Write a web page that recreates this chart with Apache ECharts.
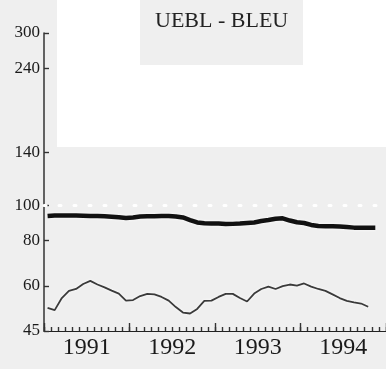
<!DOCTYPE html>
<html><head><meta charset="utf-8">
<script src="https://cdn.jsdelivr.net/npm/echarts@6/dist/echarts.min.js"></script>
<style>html,body{margin:0;padding:0;background:#efefef}#c{width:386px;height:369px}</style>
</head><body><div id="c"></div>
<script>
const years = ['1991', '1992', '1993', '1994'];
const monthNums = ['01','02','03','04','05','06','07','08','09','10','11','12'];
const months = [];
years.forEach(y => monthNums.forEach(m => months.push(y + '-' + m)));

// Thick black series (monthly, Jan 1991 - Nov 1994)
const thickSeries = [
  93.6, 93.9, 93.9, 93.9, 93.8, 93.7, 93.6, 93.6, 93.4, 93.1, 92.8, 92.4,
  92.7, 93.3, 93.4, 93.4, 93.6, 93.6, 93.3, 92.7, 91.2, 89.8, 89.3, 89.2,
  89.2, 88.9, 89.0, 89.2, 89.5, 89.8, 90.6, 91.2, 91.9, 92.2, 90.9, 89.9,
  89.5, 88.4, 87.8, 87.7, 87.6, 87.5, 87.2, 86.9, 86.9, 86.9, 86.9
];
// Thin grey series (monthly, Jan 1991 - Oct 1994)
const thinSeries = [
  52.1, 51.4, 55.5, 58.1, 58.8, 60.7, 61.9, 60.5, 59.4, 58.2, 57.1, 54.6,
  54.8, 56.2, 57.0, 56.8, 55.9, 54.6, 52.4, 50.6, 50.3, 51.8, 54.5, 54.6,
  55.9, 57.0, 57.0, 55.5, 54.3, 57.1, 58.8, 59.7, 58.8, 59.9, 60.5, 60.1,
  60.9, 59.7, 58.8, 58.1, 56.8, 55.5, 54.5, 54.0, 53.6, 52.5
];
const yTickValues = [45, 60, 80, 100, 140, 240, 300];
const refLevel = 100;
const titleText = 'UEBL - BLEU';

const chart = echarts.init(document.getElementById('c'), null, {renderer: 'canvas'});
const logTicks = yTickValues.map(v => Math.log10(v));
chart.setOption({
  backgroundColor: '#efefef',
  animation: false,
  title: {
    text: titleText, left: 150, top: 5,
    textStyle: {fontFamily: 'Liberation Serif', fontSize: 22, fontWeight: 'normal', color: '#222'}
  },
  graphic: [
    {type: 'rect', silent: true, z: -10, shape: {x: 57, y: 0, width: 329, height: 147}, style: {fill: '#ffffff'}},
    {type: 'rect', silent: true, z: -9, shape: {x: 140, y: 0, width: 163, height: 65}, style: {fill: '#efefef'}}
  ],
  grid: {left: 44, right: -4, top: 33, bottom: 38},
  xAxis: [
    {
      type: 'category', data: months, boundaryGap: true, position: 'bottom',
      axisLine: {show: true, lineStyle: {color: '#222', width: 1.2}},
      axisTick: {show: true, inside: true, length: 4, interval: 0, lineStyle: {color: '#333', width: 1.4}},
      axisLabel: {
        interval: (i, v) => v.endsWith('-07'),
        formatter: v => v.slice(0, 4),
        fontFamily: 'Liberation Serif', fontSize: 24, color: '#1a1a1a', margin: 5,
        padding: [0, 7, 0, 0]
      },
      splitLine: {show: false}
    },
    {
      type: 'category', data: months, boundaryGap: true, position: 'bottom',
      axisLine: {show: false},
      axisTick: {show: true, inside: true, length: 8, interval: (i) => i % 12 === 0, lineStyle: {color: '#333', width: 1.4}},
      axisLabel: {show: false},
      splitLine: {show: false}
    }
  ],
  yAxis: [
    {type: 'log', min: 45, max: 300, show: false, splitLine: {show: false}},
    {
      type: 'value', min: Math.log10(45), max: Math.log10(300), position: 'left',
      axisLine: {show: true, lineStyle: {color: '#333', width: 1.5}},
      axisTick: {show: true, inside: true, length: 5, customValues: logTicks, lineStyle: {color: '#333', width: 1.4}},
      axisLabel: {
        customValues: logTicks,
        formatter: v => String(Math.round(Math.pow(10, v))),
        fontFamily: 'Liberation Serif', fontSize: 17, color: '#1a1a1a', margin: 4
      },
      splitLine: {show: false}
    }
  ],
  series: [
    {
      type: 'line', data: thinSeries, xAxisIndex: 0, yAxisIndex: 0, symbol: 'none',
      lineStyle: {color: '#3a3a3a', width: 1.8, shadowColor: '#ffffff', shadowBlur: 3}
    },
    {
      type: 'line', data: thickSeries, xAxisIndex: 0, yAxisIndex: 0, symbol: 'none', z: 3,
      lineStyle: {color: '#111', width: 4.5, shadowColor: '#ffffff', shadowBlur: 3},
      markLine: {
        silent: true, symbol: 'none', label: {show: false},
        lineStyle: {color: '#ffffff', width: 3, type: [2, 13], cap: 'round'},
        data: [{yAxis: refLevel}]
      }
    }
  ]
});
</script></body></html>
